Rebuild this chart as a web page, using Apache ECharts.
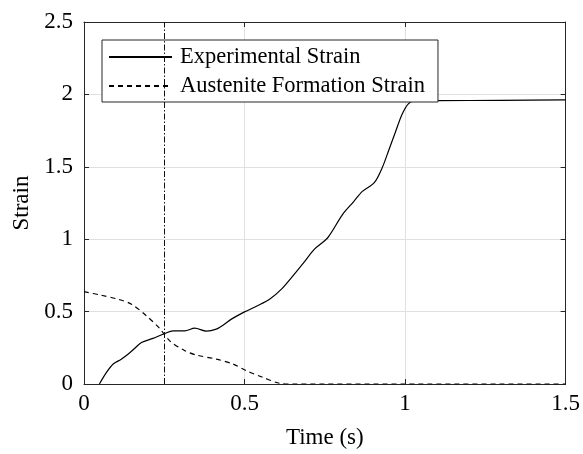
<!DOCTYPE html>
<html>
<head>
<meta charset="utf-8">
<script src="https://cdn.jsdelivr.net/npm/echarts@6/dist/echarts.min.js"></script>
<style>html,body{margin:0;padding:0;background:#fff}#c{width:583px;height:454px}</style>
</head>
<body>
<div id="c"></div>
<script>
const expTime   = [0.048, 0.07, 0.091, 0.115, 0.138, 0.16, 0.179, 0.215, 0.2516, 0.277, 0.314, 0.345, 0.381, 0.412, 0.435, 0.459, 0.5, 0.54, 0.578, 0.615, 0.650, 0.685, 0.717, 0.759, 0.805, 0.84, 0.867, 0.904, 0.93, 0.95, 0.97, 0.99, 1.01, 1.03, 1.1, 1.3, 1.5];
const expStrain = [0.0, 0.08, 0.138, 0.17, 0.207, 0.25, 0.287, 0.315, 0.349, 0.367, 0.367, 0.386, 0.365, 0.379, 0.41, 0.448, 0.498, 0.54, 0.585, 0.655, 0.745, 0.84, 0.93, 1.01, 1.17, 1.26, 1.33, 1.39, 1.5, 1.62, 1.74, 1.86, 1.935, 1.956, 1.957, 1.959, 1.962];
const ausTime   = [0.0, 0.05, 0.107, 0.148, 0.195, 0.236, 0.267, 0.314, 0.35, 0.412, 0.464, 0.505, 0.557, 0.609, 0.65, 1.0, 1.5];
const ausStrain = [0.638, 0.615, 0.585, 0.551, 0.47, 0.383, 0.298, 0.23, 0.2, 0.172, 0.138, 0.092, 0.046, 0.005, 0, 0, 0];
const markTime = 0.25;
const xTicks = [0, 0.5, 1, 1.5];
const yTicks = [0, 0.5, 1, 1.5, 2, 2.5];

const zip = (a, b) => a.map((v, i) => [v, b[i]]);
const FONT = 'Liberation Serif';
const INK = '#262626';

const chart = echarts.init(document.getElementById('c'), null, {renderer: 'canvas'});
const baseAxisX = {
  type: 'value', min: xTicks[0], max: xTicks[xTicks.length - 1], interval: 0.5
};
const baseAxisY = {
  type: 'value', min: yTicks[0], max: yTicks[yTicks.length - 1], interval: 0.5
};
chart.setOption({
  animation: false,
  backgroundColor: '#fff',
  textStyle: {fontFamily: FONT},
  grid: {left: 84, top: 22, right: 16, bottom: 69, containLabel: false},
  legend: {
    orient: 'vertical', left: 102, top: 40,
    backgroundColor: '#fff', borderColor: INK, borderWidth: 1,
    padding: [5, 13, 4, 6], itemGap: 5, itemWidth: 63, itemHeight: 14,
    itemStyle: {opacity: 0},
    textStyle: {fontFamily: FONT, fontSize: 22.5, color: '#000', lineHeight: 24, padding: [0, 0, 0, 3]},
    data: ['Experimental Strain', 'Austenite Formation Strain']
  },
  xAxis: [
    Object.assign({}, baseAxisX, {
      position: 'bottom',
      name: 'Time (s)', nameLocation: 'middle', nameGap: 42,
      nameTextStyle: {fontFamily: FONT, fontSize: 23, color: '#000'},
      axisLine: {show: true, onZero: false, lineStyle: {color: INK, width: 1}},
      axisTick: {show: true, inside: true, length: 5, lineStyle: {color: INK}},
      axisLabel: {fontFamily: FONT, fontSize: 23, color: '#000', margin: 8,
        formatter: v => String(v)},
      splitLine: {show: true, lineStyle: {color: '#e0e0e0', width: 1}}
    }),
    Object.assign({}, baseAxisX, {
      position: 'top',
      axisLine: {show: true, onZero: false, lineStyle: {color: INK, width: 1}},
      axisTick: {show: true, inside: true, length: 5, lineStyle: {color: INK}},
      axisLabel: {show: false}, splitLine: {show: false}
    })
  ],
  yAxis: [
    Object.assign({}, baseAxisY, {
      position: 'left',
      name: 'Strain', nameLocation: 'middle', nameGap: 48, nameRotate: 90,
      nameTextStyle: {fontFamily: FONT, fontSize: 23, color: '#000'},
      axisLine: {show: true, onZero: false, lineStyle: {color: INK, width: 1}},
      axisTick: {show: true, inside: true, length: 5, lineStyle: {color: INK}},
      axisLabel: {fontFamily: FONT, fontSize: 23, color: '#000', margin: 11,
        formatter: v => String(v)},
      splitLine: {show: true, lineStyle: {color: '#e0e0e0', width: 1}}
    }),
    Object.assign({}, baseAxisY, {
      position: 'right',
      axisLine: {show: true, onZero: false, lineStyle: {color: INK, width: 1}},
      axisTick: {show: true, inside: true, length: 5, lineStyle: {color: INK}},
      axisLabel: {show: false}, splitLine: {show: false}
    })
  ],
  series: [
    {
      name: 'Experimental Strain', type: 'line', xAxisIndex: 0, yAxisIndex: 0,
      data: zip(expTime, expStrain), smooth: 0.3, symbol: 'none', showSymbol: false,
      lineStyle: {color: '#000', width: 1.2, type: 'solid'},
      itemStyle: {color: '#000'},
      markLine: {
        silent: true, symbol: 'none', label: {show: false},
        lineStyle: {color: '#111', width: 1, type: [6, 2, 1.5, 2]},
        data: [{xAxis: markTime}]
      },
      z: 3
    },
    {
      name: 'Austenite Formation Strain', type: 'line', xAxisIndex: 0, yAxisIndex: 0,
      data: zip(ausTime, ausStrain), smooth: 0.3, symbol: 'none', showSymbol: false,
      lineStyle: {color: '#000', width: 1.2, type: [5, 4]},
      itemStyle: {color: '#000'},
      z: 3
    }
  ]
});
</script>
</body>
</html>
